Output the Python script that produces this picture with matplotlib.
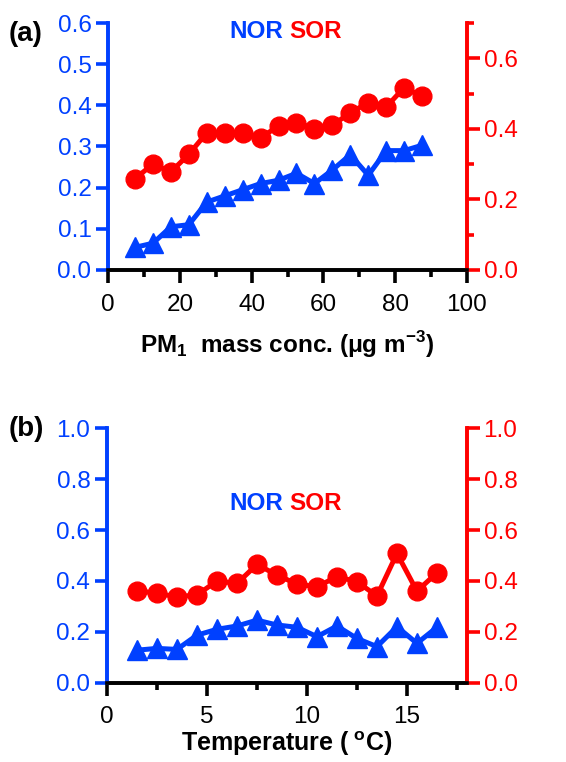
import numpy as np
import matplotlib
matplotlib.use("Agg")
import matplotlib.pyplot as plt
from matplotlib.ticker import MultipleLocator

plt.rcParams['font.family'] = ['Liberation Sans', 'DejaVu Sans']
plt.rcParams['mathtext.fontset'] = 'custom'
plt.rcParams['mathtext.bf'] = 'Liberation Sans:bold'
plt.rcParams['mathtext.rm'] = 'Liberation Sans'

BLUE = '#0040ff'
RED = '#ff0000'

# panel (a): PM1 mass concentration bins
pm_bins = [7.5, 12.5, 17.5, 22.5, 27.5, 32.5, 37.5, 42.5, 47.5, 52.5,
           57.5, 62.5, 67.5, 72.5, 77.5, 82.5, 87.5]
nor_pm = [0.055, 0.065, 0.105, 0.11, 0.165, 0.18, 0.195, 0.21, 0.218, 0.235,
          0.21, 0.243, 0.28, 0.23, 0.29, 0.29, 0.303]
sor_pm = [0.259, 0.30, 0.278, 0.328, 0.389, 0.387, 0.387, 0.375, 0.408, 0.418,
          0.401, 0.41, 0.446, 0.474, 0.462, 0.517, 0.492]

# panel (b): temperature bins
t_bins = [1.5, 2.5, 3.5, 4.5, 5.5, 6.5, 7.5, 8.5, 9.5, 10.5, 11.5, 12.5,
          13.5, 14.5, 15.5, 16.5]
nor_t = [0.128, 0.135, 0.131, 0.187, 0.21, 0.223, 0.246, 0.227, 0.218, 0.181,
         0.223, 0.174, 0.142, 0.22, 0.155, 0.218]
sor_t = [0.362, 0.351, 0.338, 0.345, 0.40, 0.39, 0.465, 0.423, 0.388, 0.377,
         0.417, 0.397, 0.341, 0.508, 0.36, 0.432]

FS = 17.5
LW = 2.6


def style_axes(ax, ax2):
    ax.spines['top'].set_visible(False)
    ax2.spines['top'].set_visible(False)
    for a in (ax, ax2):
        a.spines['left'].set_color(BLUE)
        a.spines['right'].set_color(RED)
        a.spines['bottom'].set_color('black')
        for s in ('left', 'right', 'bottom'):
            a.spines[s].set_linewidth(LW)
    ax.tick_params(axis='y', colors=BLUE, labelsize=FS, width=LW, length=9,
                   direction='out', which='major', pad=3)
    ax.tick_params(axis='y', colors=BLUE, width=LW, length=5, which='minor')
    ax2.tick_params(axis='y', colors=RED, labelsize=FS, width=LW, length=9,
                    direction='out', which='major', pad=3)
    ax2.tick_params(axis='y', colors=RED, width=LW, length=5, which='minor')
    ax.tick_params(axis='x', colors='black', labelsize=FS, width=LW, length=9,
                   direction='out', which='major', pad=8)
    ax.tick_params(axis='x', colors='black', width=LW, length=5, which='minor')


def draw_panel(rect, x, nor, sor):
    ax = fig.add_axes(rect)
    ax2 = ax.twinx()
    ax.plot(x, nor, color=BLUE, lw=3.6, marker='^', ms=14, zorder=3, clip_on=False)
    ax2.plot(x, sor, color=RED, lw=3.6, marker='o', ms=13.5, zorder=3, clip_on=False)
    return ax, ax2


fig = plt.figure(figsize=(5.66, 7.62), dpi=100)

# (a)
ax, ax2 = draw_panel([0.191, 0.6457, 0.634, 0.3241], pm_bins, nor_pm, sor_pm)
ax.set_xlim(0, 100)
ax.set_ylim(0, 0.6)
ax2.set_ylim(0, 0.7)
ax.xaxis.set_major_locator(MultipleLocator(20))
ax.xaxis.set_minor_locator(MultipleLocator(10))
ax.yaxis.set_major_locator(MultipleLocator(0.1))
ax2.yaxis.set_major_locator(MultipleLocator(0.2))
ax2.yaxis.set_minor_locator(MultipleLocator(0.1))
ax.yaxis.set_major_formatter(plt.FormatStrFormatter('%.1f'))
ax2.yaxis.set_major_formatter(plt.FormatStrFormatter('%.1f'))
style_axes(ax, ax2)
ax.set_xlabel(r'PM$_\mathbf{1}$  mass conc. ($\mathbf{\mu}$g m$^\mathbf{-3}$)',
              fontsize=FS, fontweight='bold', labelpad=10)

# (b)
bx, bx2 = draw_panel([0.189, 0.104, 0.636, 0.334], t_bins, nor_t, sor_t)
bx.set_xlim(0, 18)
bx.set_ylim(0, 1.0)
bx2.set_ylim(0, 1.0)
bx.xaxis.set_major_locator(MultipleLocator(5))
bx.xaxis.set_minor_locator(MultipleLocator(2.5))
bx.yaxis.set_major_locator(MultipleLocator(0.2))
bx2.yaxis.set_major_locator(MultipleLocator(0.2))
bx.yaxis.set_major_formatter(plt.FormatStrFormatter('%.1f'))
bx2.yaxis.set_major_formatter(plt.FormatStrFormatter('%.1f'))
style_axes(bx, bx2)
bx.set_xlabel(r'Temperature ($^\mathbf{\ o}$C)', fontsize=18, fontweight='bold',
              labelpad=1)

# panel letters and series names
fig.text(9 / 566, 1 - 34 / 762, '(a)', fontsize=20, fontweight='bold', va='center')
fig.text(9 / 566, 1 - 429 / 762, '(b)', fontsize=20, fontweight='bold', va='center')
for yc in (32, 503):
    fig.text(283 / 566, 1 - yc / 762, 'NOR', color=BLUE, fontsize=FS,
             fontweight='bold', ha='right', va='center')
    fig.text(289 / 566, 1 - yc / 762, 'SOR', color=RED, fontsize=FS,
             fontweight='bold', ha='left', va='center')

fig.savefig('out.png', dpi=100)
